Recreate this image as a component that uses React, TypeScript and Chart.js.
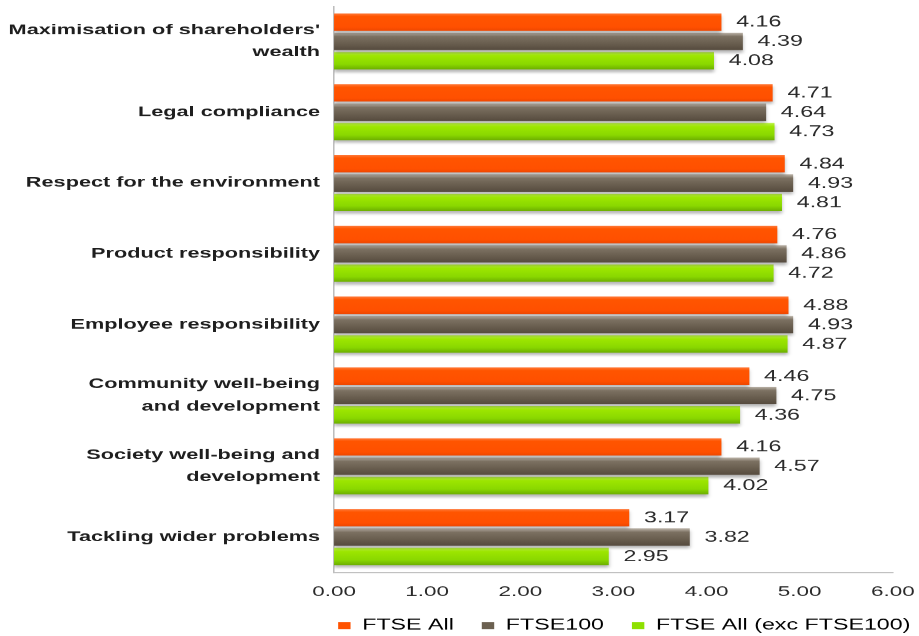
import React, { useEffect, useRef } from "react";
import { Chart, registerables } from "chart.js";

Chart.register(...registerables);

// ---- data ----
const categories: (string | string[])[] = [
  ["Maximisation of shareholders'", "wealth"],
  "Legal compliance",
  "Respect for the environment",
  "Product responsibility",
  "Employee responsibility",
  ["Community well-being", "and development"],
  ["Society well-being and", "development"],
  "Tackling wider problems",
];
const seriesNames = ["FTSE All", "FTSE100", "FTSE All (exc FTSE100)"];
const ftseAll = [4.16, 4.71, 4.84, 4.76, 4.88, 4.46, 4.16, 3.17];
const ftse100 = [4.39, 4.64, 4.93, 4.86, 4.93, 4.75, 4.57, 3.82];
const ftseAllExc = [4.08, 4.73, 4.81, 4.72, 4.87, 4.36, 4.02, 2.95];
const xTicksMin = 0;
const xTicksMax = 6;
const xTicksStep = 1;

// ---- styling ----
const W = 919;
const H = 636;
const SX = 1.55; // horizontal stretch of the original picture
const LW = Math.round(W / SX);
const FONT = "'Liberation Sans', Arial, Helvetica, sans-serif";
const SOLID = ["#FF5200", "#6B6050", "#8EE000"];
const STOPS: [number, string][][] = [
  [[0, "#FF7A3A"], [0.18, "#FF5500"], [0.8, "#FF5000"], [1, "#EE4700"]],
  [[0, "#BDB5AA"], [0.22, "#7C7162"], [0.6, "#6A5F50"], [1, "#564B3E"]],
  [[0, "#BDF24A"], [0.22, "#9DE600"], [0.7, "#8AD800"], [1, "#6CAE00"]],
];
const CAT_PCT = 0.82;
const BAR_PCT = 0.9;

function barFill(c: any) {
  const di = c.datasetIndex ?? 0;
  const chart = c.chart;
  const y = chart && chart.scales && chart.scales.y;
  if (!y || c.type !== "data") return SOLID[di];
  const p0 = y.getPixelForValue(0);
  const p1 = y.getPixelForValue(1);
  const pc = y.getPixelForValue(c.dataIndex);
  if (!isFinite(p0) || !isFinite(p1) || !isFinite(pc)) return SOLID[di];
  const slot = (Math.abs(p1 - p0) * CAT_PCT) / 3;
  const center = pc + (di - 1) * slot;
  const h = slot * BAR_PCT;
  const g = chart.ctx.createLinearGradient(0, center - h / 2, 0, center + h / 2);
  STOPS[di].forEach(([o, col]) => g.addColorStop(o, col));
  return g;
}

const barExtras = {
  id: "barExtras",
  beforeDatasetsDraw(chart: any) {
    const ctx = chart.ctx;
    ctx.save();
    ctx.shadowColor = "rgba(0,0,0,0.28)";
    ctx.shadowBlur = 4;
    ctx.shadowOffsetX = 0;
    ctx.shadowOffsetY = 4;
  },
  afterDatasetsDraw(chart: any) {
    const ctx = chart.ctx;
    ctx.restore();
    ctx.save();
    ctx.font = `15px ${FONT}`;
    ctx.fillStyle = "#2a2a2a";
    ctx.textAlign = "left";
    ctx.textBaseline = "middle";
    chart.data.datasets.forEach((ds: any, di: number) => {
      const meta = chart.getDatasetMeta(di);
      meta.data.forEach((bar: any, i: number) => {
        ctx.fillText(Number(ds.data[i]).toFixed(2), bar.x + 9.5, bar.y + 0.5);
      });
    });
    ctx.restore();
  },
};

export default function App() {
  const ref = useRef<HTMLCanvasElement | null>(null);

  useEffect(() => {
    document.body.style.margin = "0";
    const canvas = ref.current;
    if (!canvas) return;
    const chart = new Chart(canvas, {
      type: "bar",
      data: {
        labels: categories,
        datasets: [ftseAll, ftse100, ftseAllExc].map((d, i) => ({
          label: seriesNames[i],
          data: d,
          backgroundColor: barFill,
          borderWidth: 0,
          categoryPercentage: CAT_PCT,
          barPercentage: BAR_PCT,
        })),
      },
      options: {
        indexAxis: "y",
        responsive: false,
        maintainAspectRatio: false,
        devicePixelRatio: SX,
        animation: false,
        events: [],
        layout: { padding: { top: 6, right: -12.4, bottom: 0, left: 0 } },
        font: { family: FONT },
        scales: {
          x: {
            min: xTicksMin,
            max: xTicksMax,
            grid: { display: false, drawTicks: false },
            border: { display: true, color: "#BDBDBD", width: 1 },
            ticks: {
              stepSize: xTicksStep,
              padding: 11,
              maxRotation: 0,
              color: "#2a2a2a",
              font: { family: FONT, size: 14.5 },
              callback: (v: any) => Number(v).toFixed(2),
            },
            afterFit: (s: any) => {
              s.height = 27.5;
              s.paddingLeft = 0;
              s.paddingRight = 17;
            },
          },
          y: {
            grid: { display: false, drawTicks: false },
            border: { display: true, color: "#BDBDBD", width: 1 },
            ticks: {
              autoSkip: false,
              padding: 9,
              color: "#1e1e1e",
              font: { family: FONT, size: 14, weight: "bold", lineHeight: 1.6 },
            },
            afterFit: (s: any) => {
              s.width = 215.5;
              s.paddingTop = 0;
              s.paddingBottom = 0;
            },
          },
        },
        plugins: {
          tooltip: { enabled: false },
          title: { display: false },
          legend: {
            display: true,
            position: "bottom",
            align: "end",
            fullSize: true,
            maxHeight: 36.5,
            labels: {
              boxWidth: 8,
              boxHeight: 7,
              padding: 18,
              color: "#1e1e1e",
              font: { family: FONT, size: 15 },
              generateLabels: (ch: any) =>
                ch.data.datasets.map((ds: any, i: number) => ({
                  text: ds.label,
                  fillStyle: SOLID[i],
                  strokeStyle: SOLID[i],
                  lineWidth: 0,
                  hidden: false,
                  datasetIndex: i,
                })),
            },
          },
        },
      },
      plugins: [barExtras],
    } as any);
    return () => chart.destroy();
  }, []);

  return (
    <canvas
      ref={ref}
      width={LW}
      height={H}
      style={{ width: `${W}px`, height: `${H}px`, display: "block" }}
    />
  );
}
